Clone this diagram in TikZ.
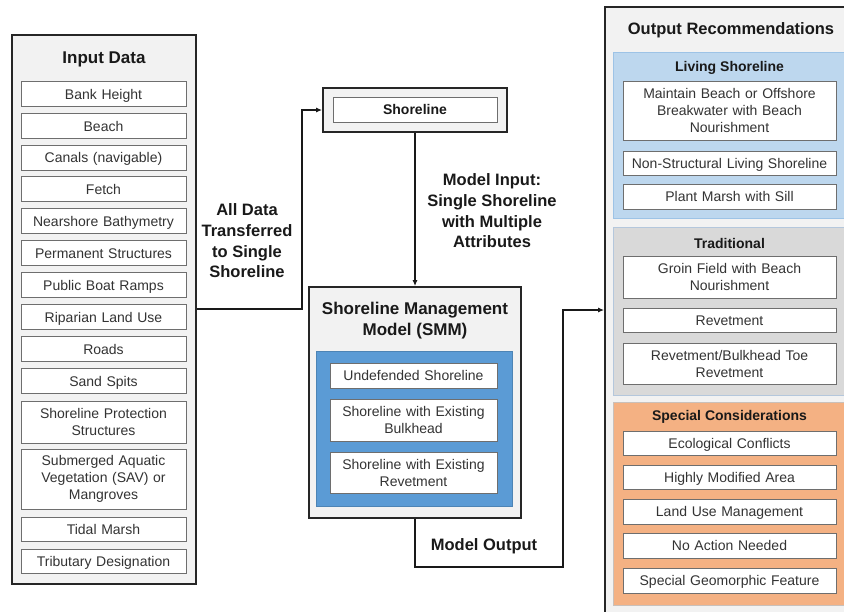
\documentclass[tikz,border=0pt]{standalone}
\usepackage{fontspec}
\setmainfont{Liberation Sans}
\usetikzlibrary{arrows.meta,calc}
\definecolor{panelgray}{HTML}{F2F2F2}
\definecolor{itemborder}{HTML}{6E6E6E}
\definecolor{itemtext}{HTML}{333333}
\definecolor{smmblue}{HTML}{5B9BD5}
\definecolor{lsfill}{HTML}{BDD7EE}
\definecolor{lsborder}{HTML}{9DC3E6}
\definecolor{trfill}{HTML}{D9D9D9}
\definecolor{trborder}{HTML}{B4C7DC}
\definecolor{spfill}{HTML}{F4B183}
\definecolor{spborder}{HTML}{C9C0BA}
\tikzset{
  panel/.style={draw=black!85, line width=1.8pt, fill=panelgray, inner sep=0pt},
  itembox/.style={draw=itemborder, line width=1pt, fill=white, inner sep=0pt,
    align=center, text=itemtext, font=\fontsize{14}{17}\selectfont},
  one/.style={text height=13pt, text depth=3pt},
  lbl/.style={align=center, font=\bfseries\fontsize{16.5}{20.7}\selectfont, text=black!90},
  ptitle/.style={align=center, font=\bfseries\fontsize{17}{21}\selectfont, text=black!90},
  gtitle/.style={align=center, font=\bfseries\fontsize{14}{17}\selectfont, text=black!90},
  conn/.style={draw=black!90, line width=1.5pt, -{Latex[length=6pt,width=5pt]}},
}
\begin{document}
\begin{tikzpicture}[x=1pt,y=-1pt]
\useasboundingbox (0,0) rectangle (844,611);
\clip (0,0) rectangle (844,611);
\fill[white] (0,0) rectangle (844,611);

% ---------- Input panel ----------
\node[panel, minimum width=184pt, minimum height=549pt] (inpanel) at (104,309.5) {};
\node[ptitle] (intitle) at (104,59) {Input Data};
\tikzset{lin/.style={itembox, minimum width=165pt, text width=160pt}}
\node[lin, one, minimum height=25pt] (i1) at (103.5,94) {Bank Height};
\node[lin, one, minimum height=25pt] (i2) at (103.5,126) {Beach};
\node[lin, one, minimum height=25pt] (i3) at (103.5,157.5) {Canals (navigable)};
\node[lin, one, minimum height=25pt] (i4) at (103.5,189) {Fetch};
\node[lin, one, minimum height=25pt] (i5) at (103.5,221) {Nearshore Bathymetry};
\node[lin, one, minimum height=25pt] (i6) at (103.5,253) {Permanent Structures};
\node[lin, one, minimum height=25pt] (i7) at (103.5,285) {Public Boat Ramps};
\node[lin, one, minimum height=25pt] (i8) at (103.5,317) {Riparian Land Use};
\node[lin, one, minimum height=25pt] (i9) at (103.5,349) {Roads};
\node[lin, one, minimum height=25pt] (i10) at (103.5,381) {Sand Spits};
\node[lin, minimum height=42pt] (i11) at (103.5,422) {Shoreline Protection\\Structures};
\node[lin, minimum height=60pt] (i12) at (103.5,479) {Submerged Aquatic\\Vegetation (SAV) or\\Mangroves};
\node[lin, one, minimum height=24pt] (i13) at (103.5,529) {Tidal Marsh};
\node[lin, one, minimum height=24pt] (i14) at (103.5,561) {Tributary Designation};

% ---------- Shoreline ----------
\node[panel, minimum width=184pt, minimum height=44pt] (shoreout) at (415,110) {};
\node[itembox, one, minimum width=164pt, minimum height=25pt, font=\bfseries\fontsize{14}{17}\selectfont, text=black!90] (shorein) at (415,109.5) {Shoreline};

% ---------- SMM ----------
\node[panel, minimum width=212pt, minimum height=231pt] (smm) at (415,402.5) {};
\node[ptitle] (smmtitle) at (415,320.5) {Shoreline Management\\Model (SMM)};
\node[draw=smmblue!85!black, line width=0.6pt, fill=smmblue, minimum width=196pt, minimum height=155pt, inner sep=0pt] (smmblue) at (414,428.5) {};
\tikzset{sin/.style={itembox, minimum width=167pt, text width=160pt}}
\node[sin, one, minimum height=25pt] (s1) at (413.5,375.5) {Undefended Shoreline};
\node[sin, minimum height=42pt] (s2) at (413.5,420) {Shoreline with Existing\\Bulkhead};
\node[sin, minimum height=41pt] (s3) at (413.5,472.5) {Shoreline with Existing\\Revetment};

% ---------- Output panel ----------
\node[panel, minimum width=260pt, minimum height=620pt] (outpanel) at (735,317) {};
\node[ptitle, font=\bfseries\fontsize{16.5}{20}\selectfont] (outtitle) at (731,30) {Output Recommendations};
\tikzset{rin/.style={itembox, minimum width=213pt, text width=205pt}}

\node[draw=lsborder, line width=1pt, fill=lsfill, minimum width=250pt, minimum height=166pt, inner sep=0pt] (ls) at (738,135) {};
\node[gtitle] (lstitle) at (729.5,68) {Living Shoreline};
\node[rin, minimum height=59pt] (l1) at (729.5,110.5) {Maintain Beach or Offshore\\Breakwater with Beach\\Nourishment};
\node[rin, one, minimum height=24pt] (l2) at (729.5,163) {Non-Structural Living Shoreline};
\node[rin, one, minimum height=25pt] (l3) at (729.5,196.5) {Plant Marsh with Sill};

\node[draw=trborder, line width=1pt, fill=trfill, minimum width=250pt, minimum height=168pt, inner sep=0pt] (tr) at (738,311) {};
\node[gtitle] (trtitle) at (729.5,243) {Traditional};
\node[rin, minimum height=42pt] (t1) at (729.5,277) {Groin Field with Beach\\Nourishment};
\node[rin, one, minimum height=24pt] (t2) at (729.5,320) {Revetment};
\node[rin, minimum height=41pt] (t3) at (729.5,363.5) {Revetment/Bulkhead Toe\\Revetment};

\node[draw=spborder, line width=1pt, fill=spfill, minimum width=250pt, minimum height=203pt, inner sep=0pt] (sp) at (738,503.5) {};
\node[gtitle] (sptitle) at (729.5,417) {Special Considerations};
\node[rin, one, minimum height=24pt] (p1) at (729.5,443) {Ecological Conflicts};
\node[rin, one, minimum height=24pt] (p2) at (729.5,477) {Highly Modified Area};
\node[rin, one, minimum height=25pt] (p3) at (729.5,511.5) {Land Use Management};
\node[rin, one, minimum height=25pt] (p4) at (729.5,545.5) {No Action Needed};
\node[rin, one, minimum height=25pt] (p5) at (729.5,580.5) {Special Geomorphic Feature};

% ---------- Connectors ----------
\coordinate (k1) at (302,309);
\coordinate (k2) at (563,310);
\draw[conn] (inpanel.east |- k1) -- (k1) |- (shoreout.west);
\draw[conn] (shoreout.south) -- (smm.north);
\draw[conn] (smm.south) -- ++(0,48) -| (k2) -- (outpanel.west |- k2);

% ---------- Labels ----------
\node[lbl] (lab1) at (247,241) {All Data\\Transferred\\to Single\\Shoreline};
\node[lbl] (lab2) at (492,211) {Model Input:\\Single Shoreline\\with Multiple\\Attributes};
\node[lbl] (lab3) at (484,546) {Model Output};
\end{tikzpicture}
\end{document}
